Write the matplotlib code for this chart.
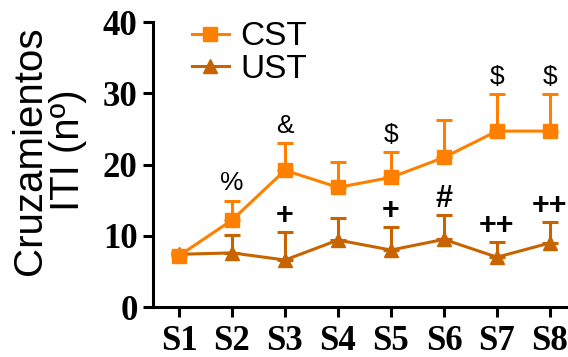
import numpy as np
import matplotlib.pyplot as plt
from matplotlib.lines import Line2D

# datos
sesiones = ["S1", "S2", "S3", "S4", "S5", "S6", "S7", "S8"]
cst_media = [7.2, 12.2, 19.2, 16.8, 18.2, 21.0, 24.7, 24.7]
cst_error = [0.3, 2.7, 3.8, 3.5, 3.5, 5.2, 5.2, 5.2]
ust_media = [7.4, 7.6, 6.6, 9.4, 8.0, 9.5, 7.0, 9.0]
ust_error = [0.3, 2.5, 3.9, 3.1, 3.2, 3.4, 2.1, 2.9]
# simbolos de significacion (indice de sesion, texto)
cst_signos = [(1, "%"), (2, "&"), (4, "$"), (6, "$"), (7, "$")]
ust_signos = [(2, "+"), (4, "+"), (5, "#"), (6, "++"), (7, "++")]

c_cst = "#FF8000"
c_ust = "#C86400"

fig = plt.figure(figsize=(5.68, 3.57), dpi=100)
ax = fig.add_axes([0.2694, 0.140, 0.7306, 0.798])

x = np.arange(1, len(sesiones) + 1)

ax.errorbar(x, cst_media, yerr=[np.zeros(len(x)), cst_error], color=c_cst,
            marker="s", markersize=10, lw=2.2, capsize=6, capthick=2.2,
            elinewidth=2.2, zorder=3)
ax.errorbar(x, ust_media, yerr=[np.zeros(len(x)), ust_error], color=c_ust,
            marker="^", markersize=10, lw=2.2, capsize=6, capthick=2.2,
            elinewidth=2.2, zorder=2)

for i, s in cst_signos:
    ax.annotate(s, (x[i], cst_media[i] + cst_error[i]), xytext=(0, 4),
                textcoords="offset points", ha="center", va="bottom",
                fontsize=19, family="Liberation Sans")
for i, s in ust_signos:
    ax.annotate(s, (x[i], ust_media[i] + ust_error[i]), xytext=(0, 1),
                textcoords="offset points", ha="center", va="bottom",
                fontsize=22, fontweight="bold", family="Liberation Sans")

ax.set_xlim(0.51, 8.34)
ax.set_ylim(0, 40)
ax.set_yticks([0, 10, 20, 30, 40])
ax.set_xticks(x)
ax.set_xticklabels(sesiones)

for lab in ax.get_xticklabels() + ax.get_yticklabels():
    lab.set_family("Liberation Serif")
    lab.set_fontweight("bold")
    lab.set_fontsize(25)

ax.spines["top"].set_visible(False)
ax.spines["right"].set_visible(False)
ax.spines["left"].set_linewidth(2.2)
ax.spines["bottom"].set_linewidth(2.2)
ax.tick_params(axis="both", width=2.2, length=7, direction="out", pad=4)
ax.tick_params(axis="x", pad=6)

ax.set_ylabel("Cruzamientos\nITI (nº)", fontsize=29, family="Liberation Sans",
              linespacing=1.0)
ax.yaxis.set_label_coords(-0.16, 0.55)

handles = [Line2D([], [], color=c_cst, marker="s", markersize=10, lw=2.2),
           Line2D([], [], color=c_ust, marker="^", markersize=10, lw=2.2)]
ax.legend(handles, ["CST", "UST"], loc="upper left",
          bbox_to_anchor=(0.062, 1.05), frameon=False,
          prop={"family": "Liberation Sans", "size": 24},
          handlelength=1.1, handletextpad=0.35, labelspacing=0.05,
          borderaxespad=0)

fig.savefig("out.png", dpi=100)
